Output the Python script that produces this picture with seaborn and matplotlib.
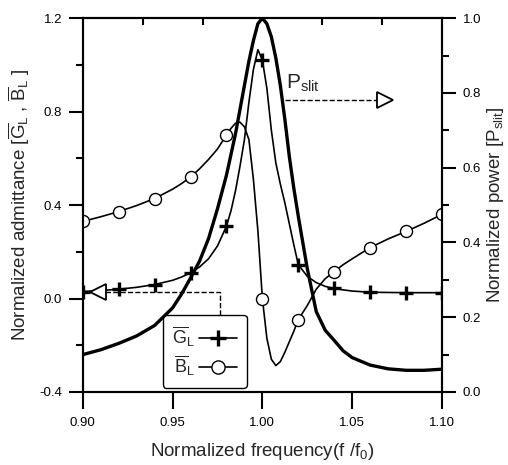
import matplotlib
matplotlib.use("Agg")
import matplotlib.pyplot as plt
from matplotlib.lines import Line2D
from matplotlib.ticker import FixedLocator, FormatStrFormatter
import pandas as pd
import seaborn as sns

sns.set_style("ticks")
plt.rcParams.update({
    "font.family": ["Liberation Sans", "DejaVu Sans"],
    "font.weight": "normal",
    "mathtext.fontset": "custom",
    "mathtext.rm": "Liberation Sans",
    "mathtext.it": "Liberation Sans:italic",
    "mathtext.bf": "Liberation Sans:bold",
    "xtick.labelsize": 9.5,
    "ytick.labelsize": 9.5,
    "xtick.color": "black",
    "ytick.color": "black",
    "xtick.major.size": 12,
    "ytick.major.size": 10,
    "xtick.minor.size": 5,
    "ytick.minor.size": 5,
    "xtick.major.width": 1.5,
    "ytick.major.width": 1.5,
    "xtick.minor.width": 1.5,
    "ytick.minor.width": 1.5,
    "xtick.major.pad": 6,
    "ytick.major.pad": 5,
})

# normalized frequency f/f0
freq = [0.90, 0.91, 0.92, 0.93, 0.94, 0.95, 0.955, 0.96, 0.965, 0.97, 0.975,
        0.98, 0.9825, 0.985, 0.9875, 0.99, 0.9925, 0.995, 0.9975, 1.00,
        1.0025, 1.005, 1.0075, 1.01, 1.0125, 1.015, 1.0175, 1.02, 1.025,
        1.03, 1.035, 1.04, 1.045, 1.05, 1.06, 1.07, 1.08, 1.09, 1.10]

# normalized conductance G_L (left axis)
g_load = [0.030, 0.034, 0.040, 0.048, 0.060, 0.078, 0.092, 0.110, 0.135, 0.170,
          0.225, 0.310, 0.375, 0.460, 0.565, 0.680, 0.840, 0.980, 1.065, 1.020,
          0.900, 0.720, 0.580, 0.490, 0.410, 0.320, 0.230, 0.145, 0.095,
          0.068, 0.052, 0.043, 0.037, 0.032, 0.027, 0.026, 0.025, 0.025, 0.025]

# normalized susceptance B_L (left axis)
b_load = [0.330, 0.350, 0.372, 0.398, 0.428, 0.468, 0.492, 0.520, 0.555, 0.595,
          0.640, 0.700, 0.728, 0.750, 0.755, 0.735, 0.680, 0.510, 0.290, 0.000,
          -0.170, -0.260, -0.287, -0.270, -0.230, -0.185, -0.140, -0.090, -0.030,
          0.040, 0.085, 0.115, 0.145, 0.170, 0.218, 0.255, 0.287, 0.322, 0.360]

# normalized slit power (right axis)
p_slit = [0.100, 0.113, 0.130, 0.150, 0.178, 0.225, 0.262, 0.305, 0.350, 0.410,
          0.490, 0.580, 0.635, 0.690, 0.755, 0.820, 0.885, 0.940, 0.985, 1.000,
          0.985, 0.950, 0.893, 0.820, 0.730, 0.630, 0.545, 0.470, 0.330,
          0.215, 0.165, 0.138, 0.110, 0.092, 0.072, 0.062, 0.058, 0.058, 0.061]

# frequencies carrying a marker
marker_freq = [0.90, 0.92, 0.94, 0.96, 0.98, 1.00, 1.02, 1.04, 1.06, 1.08, 1.10]

# tick positions
x_ticks = [0.90, 0.95, 1.00, 1.05, 1.10]
x_top_ticks = [0.9333, 0.9667, 1.0333, 1.0667]
yl_major = [-0.4, 0.0, 0.4, 0.8, 1.2]
yl_minor = [-0.2, 0.2, 0.6, 1.0]
yr_major = [0.0, 0.2, 0.4, 0.6, 0.8, 1.0]
yr_minor = [0.1, 0.3, 0.5, 0.7, 0.9]

df = pd.DataFrame({"freq": freq, "G": g_load, "B": b_load, "P": p_slit})
dm = df[df["freq"].round(4).isin(marker_freq)]

fig, ax = plt.subplots(figsize=(5.08, 4.65), dpi=100)
fig.subplots_adjust(left=0.163, right=0.870, bottom=0.157, top=0.961)
ax2 = ax.twinx()

sns.lineplot(data=df, x="freq", y="G", ax=ax, color="black", lw=1.2, sort=False)
sns.lineplot(data=df, x="freq", y="B", ax=ax, color="black", lw=1.2, sort=False)
sns.scatterplot(data=dm, x="freq", y="G", ax=ax, marker="+", s=100,
                color="black", linewidth=2.4, zorder=5)
sns.scatterplot(data=dm, x="freq", y="B", ax=ax, marker="o", s=75,
                facecolor="white", edgecolor="black", linewidth=1.0, zorder=5)
sns.lineplot(data=df, x="freq", y="P", ax=ax2, color="black", lw=2.4, sort=False)

ax.set_xlim(0.9, 1.1)
ax.set_ylim(-0.4, 1.2)
ax2.set_ylim(0.0, 1.0)

ax.xaxis.set_major_locator(FixedLocator(x_ticks))
ax.xaxis.set_minor_locator(FixedLocator(x_top_ticks))
ax.yaxis.set_major_locator(FixedLocator(yl_major))
ax.yaxis.set_minor_locator(FixedLocator(yl_minor))
ax2.yaxis.set_major_locator(FixedLocator(yr_major))
ax2.yaxis.set_minor_locator(FixedLocator(yr_minor))
ax.xaxis.set_major_formatter(FormatStrFormatter("%.2f"))
ax.yaxis.set_major_formatter(FormatStrFormatter("%.1f"))
ax2.yaxis.set_major_formatter(FormatStrFormatter("%.1f"))

# top edge: six equal divisions, ticks pointing in
ax.tick_params(axis="x", which="minor", top=True, bottom=False, direction="in")

for a in (ax, ax2):
    for s in a.spines.values():
        s.set_linewidth(1.5)
        s.set_color("black")

ax.set_xlabel(r"Normalized frequency(f /f$_0$)", fontsize=13.5, labelpad=9)
ax.set_ylabel(r"Normalized admittance [$\overline{\mathrm{G}}_\mathrm{L}$ , "
              r"$\overline{\mathrm{B}}_\mathrm{L}$ ]", fontsize=13.5, labelpad=5)
ax2.set_ylabel(r"Normalized power [P$_{\mathrm{slit}}$]", fontsize=13.5,
               rotation=90, labelpad=3)

# arrows showing which axis each curve uses
ax.plot([0.9765, 0.9765, 0.908], [-0.07, 0.028, 0.028], ls="--", color="black", lw=1)
ax.plot([0.9085], [0.028], marker="<", ms=11, mfc="white", mec="black", mew=1.3)
ax2.plot([1.0125, 1.068], [0.78, 0.78], ls="--", color="black", lw=1)
ax2.plot([1.0685], [0.78], marker=">", ms=11, mfc="white", mec="black", mew=1.3)
ax2.text(1.0132, 0.81, r"P$_{\mathrm{slit}}$", fontsize=15)

handles = [
    Line2D([], [], color="black", lw=1.2, marker="+", ms=12, mew=2.4),
    Line2D([], [], color="black", lw=1.2, marker="o", ms=9.5, mfc="white", mew=1.0),
]
labels = [r"$\overline{\mathrm{G}}_\mathrm{L}$", r"$\overline{\mathrm{B}}_\mathrm{L}$"]
leg = ax.legend(handles, labels, loc="lower left", bbox_to_anchor=(0.222, 0.011),
                borderaxespad=0, markerfirst=False, fontsize=13, frameon=True,
                fancybox=True, handlelength=2.1, borderpad=0.55, labelspacing=0.25,
                handletextpad=0.2)
leg.get_frame().set_edgecolor("black")
leg.get_frame().set_linewidth(1.0)
leg.get_frame().set_alpha(1)

fig.savefig("out.png", dpi=100)
